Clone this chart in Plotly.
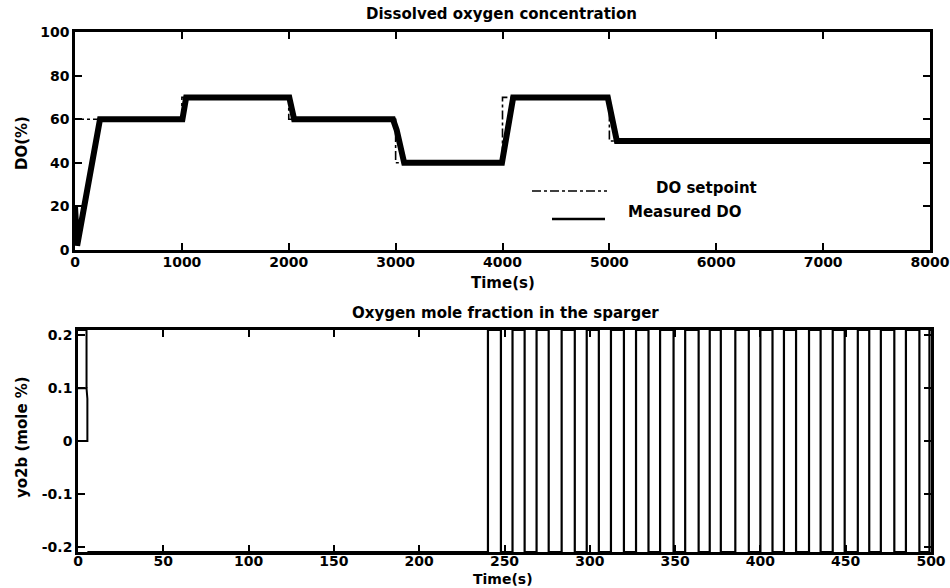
import plotly.graph_objects as go

# ---- Dissolved oxygen (top panel) ----
sp_time = [0, 1000, 2000, 3000, 4000, 5000, 8000]
sp_do = [60, 70, 60, 40, 70, 50, 50]

meas_time = [0, 20, 234, 1005, 1040, 2005, 2050, 2975, 3010, 3040, 3080,
             3995, 4030, 4060, 4100, 4985, 5030, 5070, 8000]
meas_do = [20, 2, 60, 60, 70, 70, 60, 60, 55, 48, 40,
           40, 50, 60, 70, 70, 60, 50, 50]

top_xticks = [0, 1000, 2000, 3000, 4000, 5000, 6000, 7000, 8000]
top_yticks = [0, 20, 40, 60, 80, 100]

# ---- Oxygen mole fraction in the sparger (bottom panel) ----
# start-up transient
start_time = [0, 5.5, 5.5, 5, 0, None, 0, 5, 5]
start_yo2 = [0, 0, 0.08, 0.1, 0.1, None, 0.21, 0.21, 0.1]

# on/off switching of the sparger gas
switch_time = [5.5, 240.3, 247.9, 254.7, 261.8, 268.8, 275.9, 283.5, 291.2,
               298.2, 305.3, 312.4, 320.0, 327.1, 334.4, 341.2, 349.1, 355.9,
               363.8, 370.3, 376.8, 385.3, 393.2, 400.0, 407.1, 413.8, 420.9,
               428.5, 435.3, 442.4, 449.4, 457.1, 463.8, 470.6, 478.5, 485.3,
               493.2, 499.1, 500]
switch_yo2 = [-0.21, 0.21, -0.21, 0.21, -0.21, 0.21, -0.21, 0.21, -0.21,
              0.21, -0.21, 0.21, -0.21, 0.21, -0.21, 0.21, -0.21, 0.21,
              -0.21, 0.21, -0.21, 0.21, -0.21, 0.21, -0.21, 0.21, -0.21,
              0.21, -0.21, 0.21, -0.21, 0.21, -0.21, 0.21, -0.21, 0.21,
              -0.21, 0.21, 0.21]

bot_xticks = [0, 50, 100, 150, 200, 250, 300, 350, 400, 450, 500]
bot_yticks = [-0.2, -0.1, 0, 0.1, 0.2]
bot_yticklabels = ["-0.2", "-0.1", "0", "0.1", "0.2"]

W, H = 950, 588
FONT = "DejaVu Sans"
INK = "black"


def px(x):
    return x / W


def py(y):
    return 1 - y / H


fig = go.Figure()

fig.add_trace(go.Scatter(x=sp_time, y=sp_do, mode="lines", line_shape="hv",
                         line=dict(color=INK, width=1.6, dash="dashdot"),
                         xaxis="x", yaxis="y", showlegend=False))
fig.add_trace(go.Scatter(x=meas_time, y=meas_do, mode="lines",
                         line=dict(color=INK, width=6),
                         xaxis="x", yaxis="y", showlegend=False))

fig.add_trace(go.Scatter(x=start_time, y=start_yo2, mode="lines",
                         line=dict(color=INK, width=2),
                         xaxis="x2", yaxis="y2", showlegend=False))
fig.add_trace(go.Scatter(x=switch_time, y=switch_yo2, mode="lines",
                         line_shape="hv", line=dict(color=INK, width=2.2),
                         xaxis="x2", yaxis="y2", showlegend=False))

axis_common = dict(showline=True, linecolor=INK, linewidth=2.5, mirror="allticks",
                   ticks="inside", ticklen=7, tickwidth=2, tickcolor=INK,
                   showgrid=False, zeroline=False, automargin=False,
                   tickfont=dict(family=FONT, size=14, color=INK, weight="bold"))

fig.update_layout(
    width=W, height=H, autosize=False,
    margin=dict(l=0, r=0, t=0, b=0, pad=0, autoexpand=False),
    paper_bgcolor="white", plot_bgcolor="white",
    xaxis=dict(domain=[px(75), px(930)], anchor="y", range=[0, 8000],
               tickvals=top_xticks, ticklabelstandoff=-3, **axis_common),
    yaxis=dict(domain=[py(250), py(32)], anchor="x", range=[0, 100],
               tickvals=top_yticks, **axis_common),
    xaxis2=dict(domain=[px(78), px(931)], anchor="y2", range=[0, 500],
                tickvals=bot_xticks, ticklabelstandoff=-6, **axis_common),
    yaxis2=dict(domain=[py(552), py(330)], anchor="x2", range=[-0.21, 0.21],
                tickvals=bot_yticks, ticktext=bot_yticklabels, **axis_common),
)

text_font = dict(family=FONT, size=15, color=INK, weight="bold")


def label(x, y, text, angle=0, xanchor="center", size=15):
    fig.add_annotation(x=px(x), y=py(y), xref="paper", yref="paper", text=text,
                       showarrow=False, textangle=angle, xanchor=xanchor,
                       yanchor="middle", borderpad=0,
                       font=dict(text_font, size=size))


label(502, 14, "Dissolved oxygen concentration")
label(503, 283, "Time(s)")
label(22, 143, "DO(%)", angle=-90)

label(505, 313, "Oxygen mole fraction in the sparger")
label(503, 579, "Time(s)", size=14)
label(22, 437, "yo2b (mole %)", angle=-90)

# legend for the top panel
fig.add_shape(type="line", xref="paper", yref="paper",
              x0=px(532), x1=px(607), y0=py(191), y1=py(191),
              line=dict(color=INK, width=1.6, dash="dashdot"))
fig.add_shape(type="line", xref="paper", yref="paper",
              x0=px(552), x1=px(605), y0=py(219), y1=py(219),
              line=dict(color=INK, width=2.5))
label(655, 188, "DO setpoint", xanchor="left")
label(627, 212, "Measured DO", xanchor="left")

fig.write_html(
    "out.html",
    config={"responsive": False},
    post_script="document.body.style.margin='0';document.body.style.overflow='hidden';",
)
